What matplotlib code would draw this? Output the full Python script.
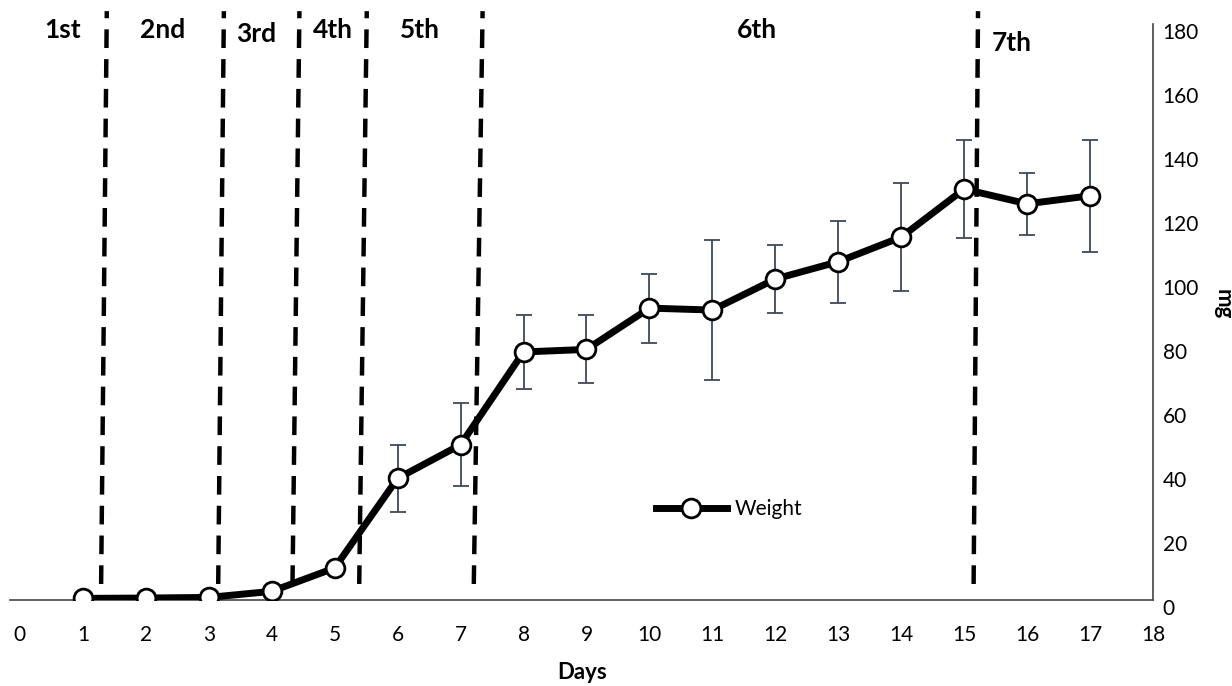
import matplotlib
matplotlib.use("Agg")
import matplotlib.pyplot as plt
from matplotlib.transforms import ScaledTranslation

# larval weight per day (mg)
DAYS = list(range(1, 18))
WEIGHT = [0.5, 0.6, 0.8, 2.7, 10.0, 38.0, 48.5, 77.5, 78.3, 91.2, 90.6,
          100.3, 105.7, 113.4, 128.4, 123.8, 126.3]
WEIGHT_ERR = [0.1, 0.1, 0.2, 0.6, 1.5, 10.5, 13.0, 11.7, 10.6, 10.8, 22.0,
              10.5, 12.8, 17.0, 15.3, 9.7, 17.5]

# instar boundaries (slightly slanted dashed lines: bottom / top x)
MOLT_X_BOTTOM = [1.29, 3.15, 4.33, 5.39, 7.21, 15.15]
MOLT_X_TOP = [1.38, 3.24, 4.44, 5.51, 7.35, 15.22]
MOLT_Y = (5, 184)

STAGES = ["1st", "2nd", "3rd", "4th", "5th", "6th", "7th"]
STAGE_X = [0.68, 2.27, 3.76, 4.97, 6.35, 11.7, 15.76]
STAGE_Y = [178, 178, 177, 178, 178, 178, 174]

XTICKS = list(range(0, 19))
YTICKS = list(range(0, 181, 20))

plt.rcParams["font.family"] = ["Lato", "DejaVu Sans"]

fig = plt.figure(figsize=(12.32, 6.86), dpi=100)
ax = fig.add_axes([0.0085, 0.1254, 0.9274, 0.863])

for xb, xt in zip(MOLT_X_BOTTOM, MOLT_X_TOP):
    ax.plot([xb, xt], MOLT_Y, color="black", lw=3.2, linestyle=(0, (4.2, 2.5)),
            solid_capstyle="butt", dash_capstyle="butt", zorder=1, clip_on=False)

ax.errorbar(DAYS, WEIGHT, yerr=WEIGHT_ERR, fmt="none", ecolor="#3f4958",
            elinewidth=1.3, capsize=5.5, capthick=1.3, zorder=2)
ax.plot(DAYS, WEIGHT, color="black", lw=5, marker="o", ms=13.5,
        markerfacecolor="white", markeredgecolor="black", markeredgewidth=2,
        label="Weight", zorder=3)

for s, x, y in zip(STAGES, STAGE_X, STAGE_Y):
    ax.text(x, y, s, ha="center", va="center", fontsize=19, fontweight="bold")

ax.set_xlim(-0.15, 18)
ax.set_ylim(0, 185)
ax.set_xticks(XTICKS)
ax.set_yticks(YTICKS)

for side in ["left", "top"]:
    ax.spines[side].set_visible(False)
for side in ["bottom", "right"]:
    ax.spines[side].set_color("#444444")
    ax.spines[side].set_linewidth(1.2)
ax.spines["right"].set_bounds(0, 180)

ax.yaxis.tick_right()
ax.tick_params(axis="y", length=0, pad=7, labelsize=15)
ax.tick_params(axis="x", length=0, pad=18, labelsize=15)
shift = ScaledTranslation(0, -7 / 100, fig.dpi_scale_trans)
for lab in ax.get_yticklabels():
    lab.set_transform(lab.get_transform() + shift)

ax.set_xlabel("Days", fontsize=16, fontweight="bold", labelpad=12)
ax.yaxis.set_label_position("right")
ax.set_ylabel("mg", fontsize=16, fontweight="bold", rotation=270,
              labelpad=10, va="bottom")

ax.legend(loc="center left", bbox_to_anchor=(10.1, 28.4),
          bbox_transform=ax.transData, frameon=False, fontsize=15,
          handlelength=3.4, handletextpad=0.4, borderpad=0, borderaxespad=0)

fig.savefig("out.png", dpi=100)
